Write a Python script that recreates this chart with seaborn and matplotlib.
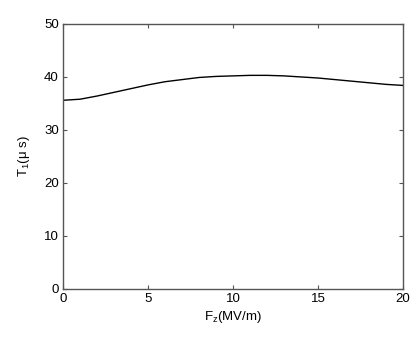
import matplotlib
matplotlib.use("Agg")
import matplotlib.pyplot as plt
import pandas as pd
import seaborn as sns

# values
fz = [0, 1, 2, 3, 4, 5, 6, 7, 8, 9, 10, 11, 12, 13, 14, 15, 16, 17, 18, 19, 20]
t1 = [35.6, 35.8, 36.4, 37.1, 37.8, 38.5, 39.1, 39.5, 39.9, 40.1, 40.2,
      40.3, 40.3, 40.2, 40.0, 39.8, 39.5, 39.2, 38.9, 38.6, 38.4]
x_ticks = [0, 5, 10, 15, 20]
y_ticks = [0, 10, 20, 30, 40, 50]

df = pd.DataFrame({"fz": fz, "t1": t1})

sns.set_style("ticks")
plt.rcParams["font.family"] = ["Liberation Sans", "DejaVu Sans"]
plt.rcParams["mathtext.default"] = "regular"
plt.rcParams["font.size"] = 9.5
plt.rcParams["text.color"] = "black"
plt.rcParams["axes.labelcolor"] = "black"
plt.rcParams["xtick.labelcolor"] = "black"
plt.rcParams["ytick.labelcolor"] = "black"

fig = plt.figure(figsize=(4.15, 3.52), dpi=100)
ax = fig.add_axes([0.152, 0.179, 0.819, 0.753])

sns.lineplot(data=df, x="fz", y="t1", color="black", linewidth=1.0, ax=ax)

ax.set_xlim(0, 20)
ax.set_ylim(0, 50)
ax.set_xticks(x_ticks)
ax.set_yticks(y_ticks)
ax.tick_params(direction="in", length=3, width=0.8, color="#555555",
               top=True, right=True, labelsize=9.5, pad=3)
for s in ax.spines.values():
    s.set_color("#555555")
    s.set_linewidth(1.0)
ax.set_xlabel("F$_z$(MV/m)", fontsize=9.5, labelpad=3)
ax.set_ylabel("T$_1$(\u03bc s)", fontsize=9.5, labelpad=9)

fig.savefig("out.png", dpi=100)
